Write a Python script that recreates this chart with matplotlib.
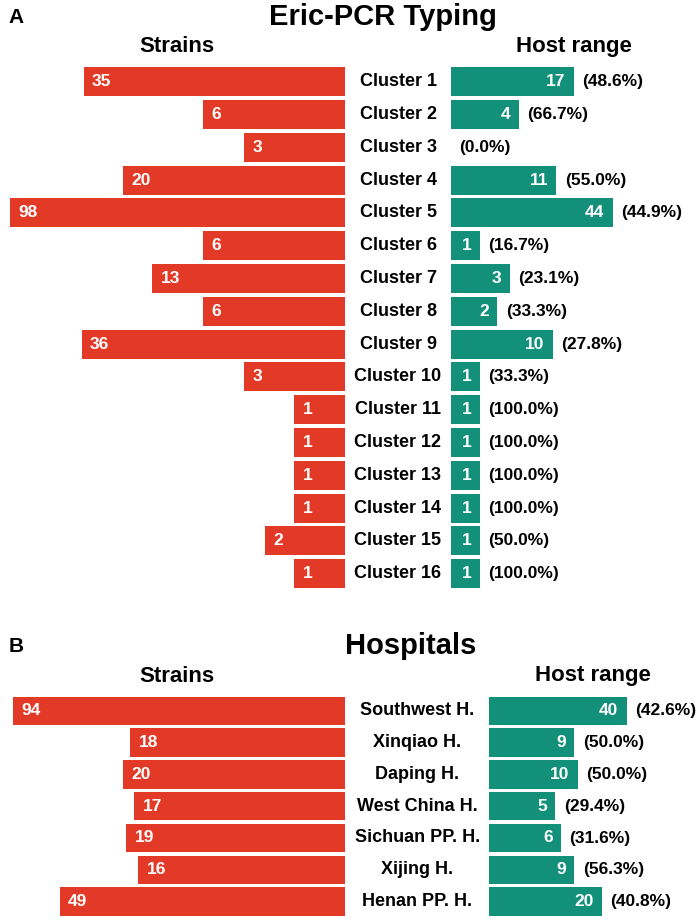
"""Eric-PCR typing / hospital strain counts vs host range (butterfly bars)."""
import numpy as np
import matplotlib
matplotlib.use("Agg")
import matplotlib.pyplot as plt
from matplotlib.transforms import blended_transform_factory

plt.rcParams["font.family"] = ["Liberation Sans", "DejaVu Sans"]
plt.rcParams["font.weight"] = "bold"

RED, GREEN = "#e23a27", "#13907a"
W, H = 697, 923

# panel A
clusters = ["Cluster 1", "Cluster 2", "Cluster 3", "Cluster 4", "Cluster 5",
            "Cluster 6", "Cluster 7", "Cluster 8", "Cluster 9", "Cluster 10",
            "Cluster 11", "Cluster 12", "Cluster 13", "Cluster 14",
            "Cluster 15", "Cluster 16"]
strains_a = [35, 6, 3, 20, 98, 6, 13, 6, 36, 3, 1, 1, 1, 1, 2, 1]
host_a = [17, 4, 0, 11, 44, 1, 3, 2, 10, 1, 1, 1, 1, 1, 1, 1]
pct_a = ["48.6", "66.7", "0.0", "55.0", "44.9", "16.7", "23.1", "33.3",
         "27.8", "33.3", "100.0", "100.0", "100.0", "100.0", "50.0", "100.0"]

# panel B
hospitals = ["Southwest H.", "Xinqiao H.", "Daping H.", "West China H.",
             "Sichuan PP. H.", "Xijing H.", "Henan PP. H."]
strains_b = [94, 18, 20, 17, 19, 16, 49]
host_b = [40, 9, 10, 5, 6, 9, 20]
pct_b = ["42.6", "50.0", "50.0", "29.4", "31.6", "56.3", "40.8"]

XMAX = 110


def fwd(x):
    return np.log10(1 + np.asarray(x, dtype=float))


def inv(y):
    return 10 ** np.asarray(y, dtype=float) - 1


fig = plt.figure(figsize=(W / 100, H / 100), dpi=100)


def px_axes(x0, top, w, h):
    return fig.add_axes([x0 / W, 1 - (top + h) / H, w / W, h / H])


def panel(names, strains, host, pct, top, step, bar_h, right_x0, right_ppd,
          label_x):
    n = len(names)
    h = n * step
    lw = np.log10(1 + XMAX) * 168
    axl = px_axes(345 - lw, top, lw, h)
    axr = px_axes(right_x0, top, np.log10(1 + XMAX) * right_ppd, h)
    y = np.arange(n)
    for ax in (axl, axr):
        ax.set_xscale("function", functions=(fwd, inv))
        ax.set_xlim(0, XMAX)
        ax.set_ylim(n - 0.5, -0.5)
        ax.axis("off")
    axl.invert_xaxis()

    axl.barh(y, strains, height=bar_h, color=RED, linewidth=0)
    axr.barh(y, host, height=bar_h, color=GREEN, linewidth=0)
    for i in range(n):
        axl.annotate(str(strains[i]), (strains[i], i), xytext=(6, 0),
                     textcoords="offset points", ha="left", va="center",
                     color="white", fontsize=12.5)
        if host[i] > 0:
            axr.annotate(str(host[i]), (host[i], i), xytext=(-6, 0),
                         textcoords="offset points", ha="right", va="center",
                         color="white", fontsize=12.5)
        axr.annotate(f"({pct[i]}%)", (host[i], i), xytext=(6, 0),
                     textcoords="offset points", ha="left", va="center",
                     color="black", fontsize=12.5)
    tr = blended_transform_factory(fig.transFigure, axl.transData)
    for i, name in enumerate(names):
        axl.text(label_x / W, i, name, transform=tr, ha="center", va="center",
                 fontsize=13, color="black")


panel(clusters, strains_a, host_a, pct_a, top=65.3, step=32.8, bar_h=0.88,
      right_x0=450.7, right_ppd=98, label_x=398)
panel(hospitals, strains_b, host_b, pct_b, top=694.9, step=31.8, bar_h=0.89,
      right_x0=489, right_ppd=85.3, label_x=417.5)


def ftext(x, y, s, size, ha="center"):
    fig.text(x / W, 1 - y / H, s, ha=ha, va="baseline", fontsize=size,
             fontweight="bold")


ftext(8, 22.7, "A", 15, ha="left")
ftext(383, 25, "Eric-PCR Typing", 21)
ftext(177, 51.7, "Strains", 16)
ftext(573.5, 51.7, "Host range", 16)

ftext(9, 652, "B", 15, ha="left")
ftext(411, 654, "Hospitals", 21)
ftext(177, 681.5, "Strains", 16)
ftext(592.5, 681.5, "Host range", 16)

fig.savefig("out.png", dpi=100)
